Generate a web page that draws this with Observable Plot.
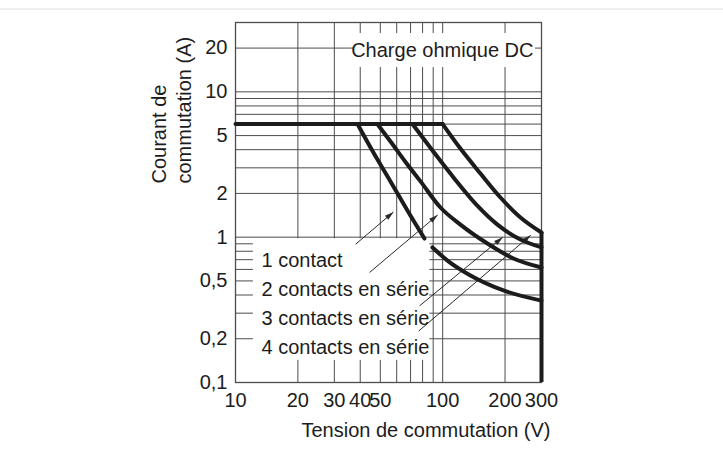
<!DOCTYPE html>
<html><head><meta charset="utf-8">
<script src="https://cdn.jsdelivr.net/npm/d3@7"></script>
<script src="https://cdn.jsdelivr.net/npm/@observablehq/plot@0.6"></script>
<style>
html,body{margin:0;padding:0;background:#fff;}
#wrap{position:relative;width:723px;height:459px;overflow:hidden;}
#topline{position:absolute;left:0;top:8px;width:723px;height:2px;background:#eeeeee;z-index:1;}
</style></head>
<body><div id="wrap"><div id="chart"></div><div id="topline"></div></div>
<script>
// ---- axis ticks / grid ----
const xTicks = [10, 20, 30, 40, 50, 100, 200, 300];
const yTicks = [0.1, 0.2, 0.5, 1, 2, 5, 10, 20];
const yTickLabels = ["0,1", "0,2", "0,5", "1", "2", "5", "10", "20"];
const xGrid = [20, 30, 40, 50, 60, 70, 80, 90, 100, 200];
const yGrid = [0.2, 0.3, 0.4, 0.5, 0.6, 0.7, 0.8, 0.9, 1, 2, 3, 4, 5, 6, 7, 8, 9, 10, 20];

// ---- texts ----
const chartTitle = "Charge ohmique DC";
const xTitle = "Tension de commutation (V)";
const yTitle = "Courant de\ncommutation (A)";
const seriesNames = ["1 contact", "2 contacts en série", "3 contacts en série", "4 contacts en série"];

// ---- data (V, A) ----
const plateauV = [10, 100];
const plateauI = [6, 6];
const c1V = [38.8, 46.3, 56.0, 67.6, 81.7];
const c1I = [6, 3.82, 2.42, 1.525, 0.978];
const c1bV = [89.3, 105.5, 136.2, 196.6, 300];
const c1bI = [0.85, 0.69, 0.545, 0.43, 0.366];
const c2V = [48.4, 56.0, 67.6, 78.2, 97.6, 121.8, 164.5, 219.7, 300];
const c2I = [6, 4.55, 3.16, 2.42, 1.60, 1.22, 0.904, 0.713, 0.618];
const c3V = [71.5, 89.3, 109.0, 147, 183.9, 237.5, 300];
const c3I = [6, 3.95, 2.74, 1.65, 1.22, 0.963, 0.85];
const c4V = [100, 121.8, 152.2, 190.1, 237.5, 300];
const c4I = [6, 4.07, 2.74, 1.874, 1.365, 1.076];
const limitV = [300];
const limitI = [0.1, 1.076];

// ---- annotation arrows (label -> curve) ----
const arrowFromV = [38.0, 44.4, 77.4, 76.6];
const arrowFromI = [0.894, 0.572, 0.337, 0.226];
const arrowToV = [57.9, 94.6, 195, 266];
const arrowToI = [1.49, 1.42, 1.0, 1.03];

// ---- label background boxes (data units) ----
const legendBox = {x1: 12.2, x2: 86.7, y1: 0.142, y2: 0.975};
const titleBox = {x1: 37.1, x2: 280.6, y1: 14.7, y2: 25.2};

const font = '"Liberation Sans", Arial, Helvetica, sans-serif';
const ink = "#1c1c1c";
const gridInk = "#4d4d4d";

const rows = [];
function add(name, V, I) { V.forEach((v, k) => rows.push({name, v, i: I[k]})); }
add("c1", c1V, c1I);
add("c1b", c1bV, c1bI);
add("c2", c2V, c2I);
add("c3", c3V, c3I);
add("c4", c4V, c4I);
const plateau = plateauV.map((v, k) => ({v, i: plateauI[k]}));
const arrows = arrowFromV.map((v, k) => ({x1: v, y1: arrowFromI[k], x2: arrowToV[k], y2: arrowToI[k]}));
const yLabels = yTicks.map((t, k) => ({t, label: yTickLabels[k]}));

function filledArrow(color) {
  const m = d3.create("svg:marker")
    .attr("viewBox", "-9 -3.5 10 7")
    .attr("markerWidth", 10).attr("markerHeight", 7)
    .attr("markerUnits", "userSpaceOnUse")
    .attr("orient", "auto")
    .attr("overflow", "visible");
  m.append("path").attr("d", "M-9,-2.6L0,0L-9,2.6Z").attr("fill", color).attr("stroke", "none");
  return m.node();
}

const chart = Plot.plot({
  width: 723, height: 459,
  marginLeft: 235, marginRight: 182, marginTop: 22, marginBottom: 77,
  style: {fontFamily: font, fontSize: "20px", color: ink, background: "white"},
  x: {type: "log", domain: [10, 300]},
  y: {type: "log", domain: [0.1, 30]},
  marks: [
    Plot.ruleX(xGrid, {stroke: gridInk, strokeWidth: 1}),
    Plot.ruleY(yGrid, {stroke: gridInk, strokeWidth: 1}),
    Plot.frame({stroke: gridInk, strokeWidth: 1.3}),
    Plot.rect([legendBox, titleBox], {x1: "x1", x2: "x2", y1: "y1", y2: "y2", fill: "white"}),
    Plot.link(arrows, {x1: "x1", y1: "y1", x2: "x2", y2: "y2", stroke: "#2a2a2a", strokeWidth: 1, markerEnd: filledArrow}),
    Plot.line(plateau, {x: "v", y: "i", stroke: ink, strokeWidth: 4}),
    Plot.line(rows, {x: "v", y: "i", z: "name", stroke: ink, strokeWidth: 4, curve: "monotone-x", strokeLinejoin: "round"}),
    Plot.ruleX(limitV, {y1: () => limitI[0], y2: () => limitI[1], stroke: ink, strokeWidth: 4}),
    Plot.axisX({ticks: xTicks, tickSize: 0, tickPadding: 10, label: null, tickFormat: d => String(d)}),
    Plot.axisY({ticks: [], tickSize: 0, label: null}),
    Plot.text(yLabels, {y: "t", text: "label", frameAnchor: "left", textAnchor: "end", lineAnchor: "middle", dx: -8}),
    Plot.text([chartTitle], {text: d => d, y: () => 20, frameAnchor: "right", textAnchor: "end", lineAnchor: "middle", dx: -8, dy: 3}),
    Plot.text([seriesNames.join("\n")], {text: d => d, frameAnchor: "bottom-left", textAnchor: "start", lineAnchor: "bottom", lineHeight: 1.435, dx: 26, dy: -29}),
    Plot.text([xTitle], {text: d => d, frameAnchor: "bottom-right", textAnchor: "end", lineAnchor: "bottom", dx: 9, dy: 54}),
    Plot.text([yTitle], {text: d => d, frameAnchor: "left", rotate: -90, textAnchor: "start", lineAnchor: "middle", lineHeight: 1.25, dx: -65.5, dy: -19})
  ]
});
document.getElementById("chart").appendChild(chart);
</script>
</body></html>
